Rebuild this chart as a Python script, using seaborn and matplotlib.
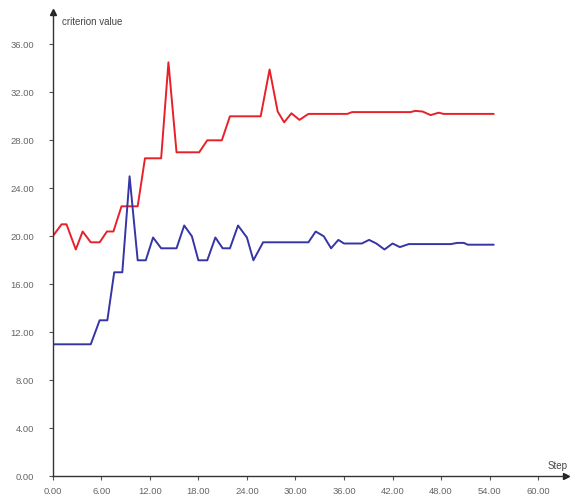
import matplotlib
matplotlib.use("Agg")
import matplotlib.pyplot as plt
import pandas as pd
import seaborn as sns

# red series (criterion value vs step)
red_x = [0, 1.1, 1.7, 2.85, 3.7, 4.7, 5.8, 6.7, 7.5, 8.5, 10.5, 11.4, 13.4, 14.3,
         15.3, 18.1, 19.1, 20.9, 21.9, 25.7, 26.8, 27.8, 28.6, 29.5, 30.5, 31.6,
         36.4, 37.0, 44.2, 44.8, 45.7, 46.7, 47.7, 48.3, 54.5]
red_y = [20.0, 21.0, 21.0, 18.9, 20.4, 19.5, 19.5, 20.4, 20.4, 22.5, 22.5, 26.5, 26.5, 34.5,
         27.0, 27.0, 28.0, 28.0, 30.0, 30.0, 33.9, 30.4, 29.5, 30.25, 29.7, 30.2,
         30.2, 30.35, 30.35, 30.45, 30.4, 30.1, 30.3, 30.2, 30.2]

# blue series
blue_x = [0, 4.7, 5.8, 6.75, 7.6, 8.6, 9.5, 10.5, 11.5, 12.4, 13.4, 15.3, 16.25, 17.2,
          18.0, 19.1, 20.1, 21.0, 21.9, 22.9, 24.0, 24.8, 26.0, 31.6, 32.5, 33.5,
          34.4, 35.3, 36.0, 38.2, 39.1, 40.0, 41.0, 42.0, 42.9, 44.0, 49.2, 50.0,
          50.8, 51.3, 54.5]
blue_y = [11.0, 11.0, 13.0, 13.0, 17.0, 17.0, 25.0, 18.0, 18.0, 19.9, 19.0, 19.0, 20.9, 20.0,
          18.0, 18.0, 19.9, 19.0, 19.0, 20.9, 19.9, 18.0, 19.5, 19.5, 20.4, 20.0,
          19.0, 19.7, 19.4, 19.4, 19.7, 19.4, 18.9, 19.4, 19.1, 19.35, 19.35, 19.45,
          19.45, 19.3, 19.3]

x_ticks = [0, 6, 12, 18, 24, 30, 36, 42, 48, 54, 60]
y_ticks = [0, 4, 8, 12, 16, 20, 24, 28, 32, 36]

sns.set_style("white")
plt.rcParams['font.family'] = ['Liberation Sans', 'DejaVu Sans']

fig = plt.figure(figsize=(5.7, 4.98), dpi=100)
ax = fig.add_axes([0.0925, 0.0436, 0.9, 0.9325])

df_red = pd.DataFrame({'step': red_x, 'value': red_y})
df_blue = pd.DataFrame({'step': blue_x, 'value': blue_y})
sns.lineplot(data=df_red, x='step', y='value', sort=False, estimator=None,
             color='#e8202a', linewidth=1.4, ax=ax)
sns.lineplot(data=df_blue, x='step', y='value', sort=False, estimator=None,
             color='#3535a5', linewidth=1.4, ax=ax)

ax.set_xlim(0, 63.4)
ax.set_ylim(0, 38.7)
ax.set_xticks(x_ticks)
ax.set_yticks(y_ticks)
ax.set_xticklabels([f"{t:.2f}" for t in x_ticks])
ax.set_yticklabels([f"{t:.2f}" for t in y_ticks])
ax.set_xlabel('')
ax.set_ylabel('')

for side in ['top', 'right']:
    ax.spines[side].set_visible(False)
for side in ['left', 'bottom']:
    ax.spines[side].set_color('#333333')
    ax.spines[side].set_linewidth(1.0)

ax.tick_params(axis='y', direction='out', length=3, width=0.8, color='#555555',
               labelsize=6.8, labelcolor='#666666', pad=10.5, left=True)
ax.tick_params(axis='x', direction='out', length=3, width=0.8, color='#555555',
               labelsize=6.8, labelcolor='#666666', pad=5, bottom=True)

# arrow heads at the ends of the axes
ax.plot(0, 1, marker='^', color='#222222', markersize=4, transform=ax.transAxes, clip_on=False)
ax.plot(1, 0, marker='>', color='#222222', markersize=4, transform=ax.transAxes, clip_on=False)

fig.text(62 / 570, 1 - 22 / 498, 'criterion value', fontsize=7, color='#444444',
         ha='left', va='center')
fig.text(568 / 570, 1 - 466 / 498, 'Step', fontsize=7, color='#444444',
         ha='right', va='center')

fig.savefig('out.png', dpi=100)
